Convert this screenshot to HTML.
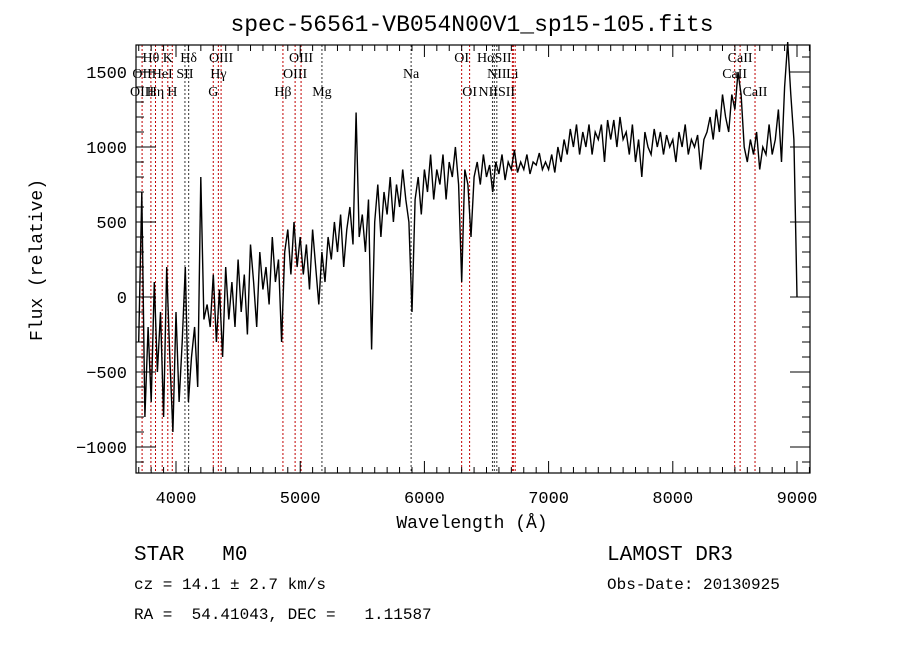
<!DOCTYPE html>
<html><head><meta charset="utf-8"><style>
html,body{margin:0;padding:0;background:#fff;}
svg{display:block;}
text{font-family:"Liberation Mono",monospace;fill:#000;white-space:pre;}
.lbl{font-family:"Liberation Serif",serif;font-size:14px;}
</style></head><body>
<svg id="c" width="900" height="649" viewBox="0 0 900 649" xml:space="preserve">
<text x="472" y="31" text-anchor="middle" font-size="23">spec-56561-VB054N00V1_sp15-105.fits</text>
<text x="472" y="528" text-anchor="middle" font-size="18">Wavelength (Å)</text>
<text transform="translate(42,260) rotate(-90)" text-anchor="middle" font-size="18">Flux (relative)</text>
<text x="134" y="560" font-size="21">STAR   M0</text>
<text x="134" y="589" font-size="16">cz = 14.1 ± 2.7 km/s</text>
<text x="134" y="619" font-size="16">RA =  54.41043, DEC =   1.11587</text>
<text x="607" y="560" font-size="21">LAMOST DR3</text>
<text x="607" y="589" font-size="16">Obs-Date: 20130925</text>
<g id="lines"></g><g id="axes"></g><g id="spec"></g>
</svg>
<script>
const fluxStart = 3700, fluxStep = 25;
const flux = [-300,700,-800,-200,-700,100,-500,-100,-800,200,-400,-900,-100,-700,-300,200,-700,-400,-200,-600,
800,-150,-50,-200,150,-300,50,-400,200,-150,100,-200,250,-100,150,-250,350,100,-200,300,
50,200,-50,400,100,250,-300,300,450,150,500,200,400,150,350,50,450,200,-50,300,
100,400,250,500,300,550,200,450,600,350,1230,400,550,300,650,-350,500,750,400,700,
550,800,500,750,600,850,650,500,-100,650,800,550,850,700,950,650,850,750,950,650,
900,800,1000,750,100,850,750,400,800,900,750,950,800,880,700,900,820,950,780,900,
850,980,830,900,850,950,820,900,880,960,850,900,850,950,830,1000,900,1050,950,1120,
1000,1150,950,1100,1000,1150,950,1100,1050,1150,900,1180,1050,1180,1000,1200,1050,1100,950,1150,
900,1050,800,1100,1000,950,1120,1000,1100,950,1080,1000,1050,900,1100,1000,1150,950,1050,1000,
1080,850,1050,1100,1200,1050,1250,1100,1350,1200,1100,1350,1250,1500,1350,1000,900,1050,950,1100,
850,1000,950,1150,950,1050,1250,900,1400,1700,1350,1050,0];
const lineWaves = [3727,3798,3835,3889,3934,3970,4072,4102,4300,4341,4363,4861,4959,5007,5175,5893,6300,6364,6548,6563,6583,6708,6716,6731,8498,8542,8662];
const lineColors = ['r','r','r','r','r','r','k','k','r','r','r','r','r','r','k','k','r','r','k','k','k','r','r','r','r','r','r'];
const labelNames = ['Hθ','K','Hδ','OIII','OIII','OI','HαSII','CaII','OII','HeI','SII','Hγ','OIII','Na','NII','Li','CaII','OIII','Hη','H','G','Hβ','Mg','OI','NIISII','CaII'];
const labelWaves = [3798,3934,4102,4363,5007,6300,6563,8542,3727,3889,4072,4341,4959,5893,6583,6708,8498,3727,3835,3970,4300,4861,5175,6364,6583,8662];
const labelRows  = [0,0,0,0,0,0,0,0,1,1,1,1,1,1,1,1,1,2,2,2,2,2,2,2,2,2];
const xTicks = [4000,5000,6000,7000,8000,9000];
const yTicks = [-1000,-500,0,500,1000,1500];
const X0=136,X1=810,Y0=45,Y1=473;
const xs = w => 176 + (w-4000)*621/5000;
const ys = f => 297 - f*0.15;
const NS='http://www.w3.org/2000/svg';
function mk(tag,parent,attrs){const e=document.createElementNS(NS,tag);for(const k in attrs)e.setAttribute(k,attrs[k]);parent.appendChild(e);return e;}
const gL=document.getElementById('lines'),gA=document.getElementById('axes'),gS=document.getElementById('spec');
lineWaves.forEach((w,i)=>{
  const l=mk('line',gL,{x1:xs(w),x2:xs(w),y1:Y0,y2:Y1,stroke:lineColors[i]==='r'?'#c00000':'#333','stroke-width':1,'stroke-dasharray':'2,2'});
  
  
});
const rowY=[62,78,96];
labelNames.forEach((n,i)=>{
  const t=mk('text',gL,{x:xs(labelWaves[i]),y:rowY[labelRows[i]],'text-anchor':'middle',class:'lbl'});
  t.textContent=n;
  
  
});
let d='';
flux.forEach((f,i)=>{const w=fluxStart+i*fluxStep;d+=(i?'L':'M')+xs(w).toFixed(1)+','+ys(f).toFixed(1);});
const p=mk('path',gS,{d:d,fill:'none',stroke:'#000','stroke-width':1.4});


const fr=mk('rect',gA,{x:X0,y:Y0,width:X1-X0,height:Y1-Y0,fill:'none',stroke:'#000','stroke-width':1.2});


for(let w=3700;w<=9100;w+=100){const x=xs(w);const len=(w%1000===0)?12:6;
  mk('line',gA,{x1:x,x2:x,y1:Y1,y2:Y1-len,stroke:'#000'});mk('line',gA,{x1:x,x2:x,y1:Y0,y2:Y0+len,stroke:'#000'});}
for(let f=-1100;f<=1600;f+=100){const y=ys(f);const len=(f%500===0)?20:8;
  mk('line',gA,{x1:X0,x2:X0+len,y1:y,y2:y,stroke:'#000'});mk('line',gA,{x1:X1,x2:X1-len,y1:y,y2:y,stroke:'#000'});}
xTicks.forEach(w=>{const t=mk('text',gA,{x:xs(w),y:503,'text-anchor':'middle','font-size':17,'font-family':'Liberation Sans, sans-serif'});t.textContent=w;
  
  });
yTicks.forEach(f=>{const t=mk('text',gA,{x:127,y:ys(f)+6,'text-anchor':'end','font-size':17,'font-family':'Liberation Sans, sans-serif'});t.textContent=f<0?'\u2212'+(-f):f;
  
  });
</script>
</body></html>
